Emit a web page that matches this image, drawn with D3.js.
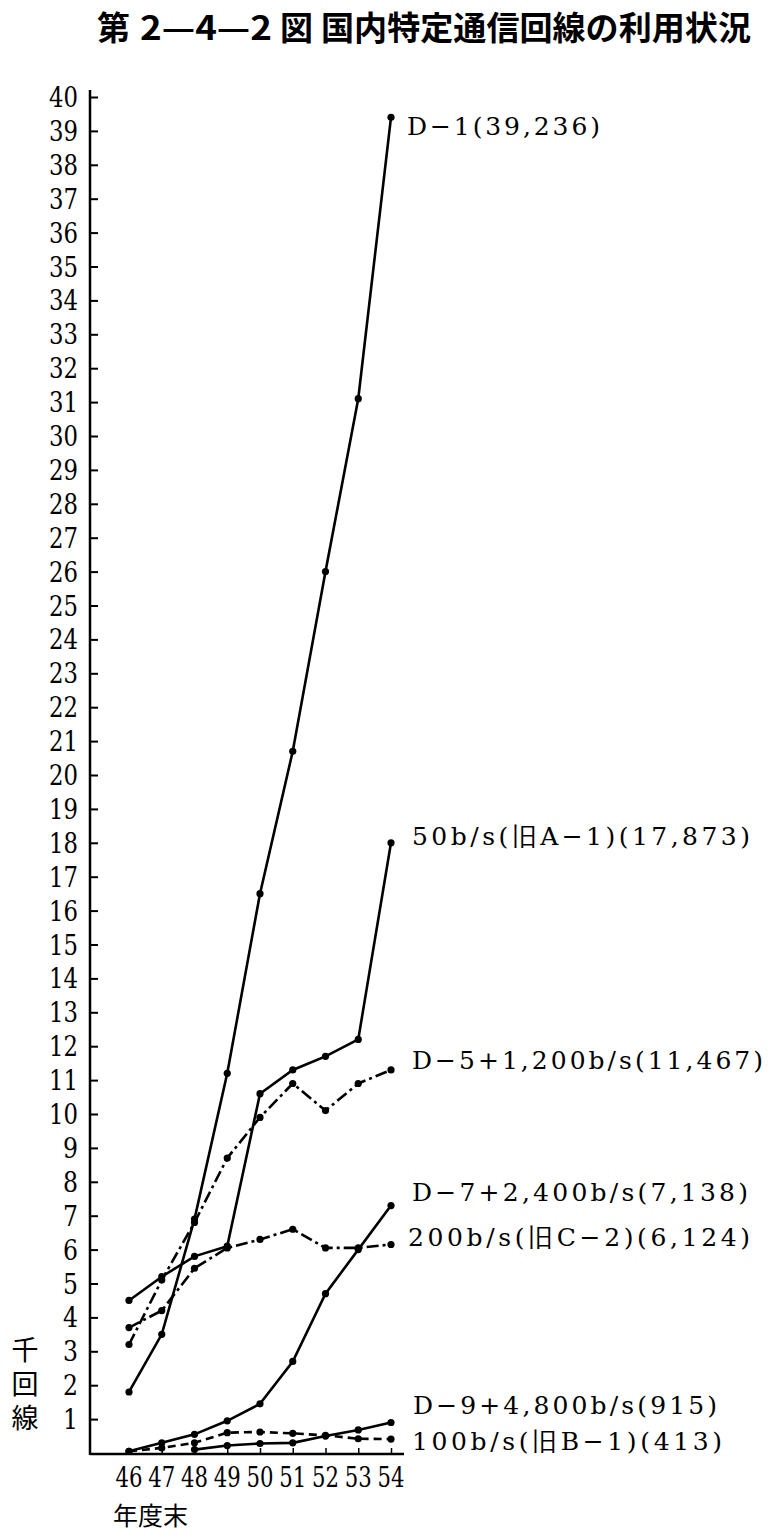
<!DOCTYPE html>
<html>
<head>
<meta charset="utf-8">
<script src="https://cdn.jsdelivr.net/npm/d3@7"></script>
<style>
  html, body { margin: 0; padding: 0; background: #fff; }
  svg { display: block; }
  .serif { font-family: "DejaVu Serif", "Liberation Serif", serif; }
  .cjk { font-family: "Noto Sans CJK JP", "Noto Sans CJK SC", sans-serif; }
</style>
</head>
<body>
<div id="chart"></div>
<script>
// ---- data (thousand circuits, fiscal year end, Showa) ----
const years = [46, 47, 48, 49, 50, 51, 52, 53, 54];
const yTicks = d3.range(1, 41);

const seriesD1  = [1.8, 3.5, 6.9, 11.2, 16.5, 20.7, 26.0, 31.1, 39.4];
const seriesA1  = [4.5, 5.2, 5.8, 6.1, 10.6, 11.3, 11.7, 12.2, 18.0];
const seriesD5  = [3.2, 5.1, 6.8, 8.7, 9.9, 10.9, 10.1, 10.9, 11.3];
const seriesD7  = [0.05, 0.3, 0.55, 0.95, 1.45, 2.7, 4.7, 6.0, 7.3];
const seriesC2  = [3.7, 4.2, 5.45, 6.05, 6.3, 6.6, 6.05, 6.05, 6.15];
const seriesD9  = [null, null, 0.1, 0.22, 0.28, 0.3, 0.5, 0.68, 0.9];
const seriesB1  = [0.05, 0.15, 0.3, 0.6, 0.62, 0.58, 0.52, 0.42, 0.41];

const seriesNames = [
  "D\u22121(39,236)",
  "50b/s(旧A\u22121)(17,873)",
  "D\u22125+1,200b/s(11,467)",
  "D\u22127+2,400b/s(7,138)",
  "200b/s(旧C\u22122)(6,124)",
  "D\u22129+4,800b/s(915)",
  "100b/s(旧B\u22121)(413)"
];
const seriesValues = [seriesD1, seriesA1, seriesD5, seriesD7, seriesC2, seriesD9, seriesB1];
const seriesStyles = ["solid", "solid", "dashdot", "solid", "dashdot", "solid", "dashed"];

const titleParts = ["第", "2—4—2", "図", "国内特定通信回線の利用状況"];
const yUnit = "千回線";
const xUnit = "年度末";

// ---- layout ----
const W = 774, H = 1538;
const svg = d3.select("#chart").append("svg").attr("width", W).attr("height", H);

const axisX = 90, axisY = 1454;
const x = d3.scaleLinear().domain([46, 54]).range([129, 391]);
const y = d3.scaleLinear().domain([0, 40]).range([1453, 97]);

// title
const titleX = [97, 140, 280, 321];
const titleLen = [null, 132, null, 430];
titleParts.forEach((t, i) => {
  const el = svg.append("text").attr("class", "cjk")
    .attr("x", titleX[i]).attr("y", 40)
    .attr("font-weight", "bold")
    .attr("font-size", 33).attr("fill", "#000").text(t);
  if (titleLen[i]) el.attr("textLength", titleLen[i]).attr("lengthAdjust", "spacingAndGlyphs");
});

// y axis
const yAxis = d3.axisRight(y).tickValues(yTicks).tickSize(8).tickFormat("");
const gy = svg.append("g").attr("transform", `translate(${axisX},0)`).call(yAxis);
gy.select(".domain").remove();
gy.selectAll(".tick line").attr("stroke", "#000").attr("stroke-width", 2);
svg.append("line").attr("x1", axisX).attr("x2", axisX).attr("y1", 90).attr("y2", axisY + 1)
  .attr("stroke", "#000").attr("stroke-width", 2.5);

svg.append("g").selectAll("text").data(yTicks).join("text")
  .attr("class", "serif")
  .attr("x", axisX - 12).attr("y", d => y(d))
  .attr("dy", "0.36em")
  .attr("text-anchor", "end")
  .attr("font-size", 28)
  .attr("textLength", d => d < 10 ? 15 : 29).attr("lengthAdjust", "spacingAndGlyphs")
  .text(d => d);

// x axis
svg.append("line").attr("x1", axisX).attr("x2", 404).attr("y1", axisY).attr("y2", axisY)
  .attr("stroke", "#000").attr("stroke-width", 2.5);
const xAxis = d3.axisTop(x).tickValues(years).tickSize(6).tickFormat("");
const gx = svg.append("g").attr("transform", `translate(0,${axisY})`).call(xAxis);
gx.select(".domain").remove();
gx.selectAll(".tick line").attr("stroke", "#000").attr("stroke-width", 1.5);

svg.append("g").selectAll("text").data(years).join("text")
  .attr("class", "serif")
  .attr("x", d => x(d)).attr("y", 1487)
  .attr("text-anchor", "middle")
  .attr("font-size", 28)
  .attr("textLength", 27).attr("lengthAdjust", "spacingAndGlyphs")
  .text(d => d);

svg.append("text").attr("class", "cjk").attr("x", 113).attr("y", 1525)
  .attr("font-size", 25).text(xUnit);

svg.append("text").attr("class", "cjk")
  .attr("x", 25).attr("y", 1336)
  .attr("font-size", 27)
  .style("writing-mode", "vertical-rl")
  .style("letter-spacing", "7px")
  .text(yUnit);

// lines
const dashes = { solid: null, dashdot: "12,4,3,4", dashed: "8,5" };
const line = d3.line()
  .defined(d => d.v != null)
  .x(d => x(d.yr)).y(d => y(d.v));

seriesValues.forEach((vals, i) => {
  const pts = years.map((yr, j) => ({ yr, v: vals[j] }));
  svg.append("path").datum(pts)
    .attr("d", line)
    .attr("fill", "none").attr("stroke", "#000")
    .attr("stroke-width", 2.6)
    .attr("stroke-dasharray", dashes[seriesStyles[i]]);
  svg.append("g").selectAll("circle").data(pts.filter(d => d.v != null)).join("circle")
    .attr("cx", d => x(d.yr)).attr("cy", d => y(d.v))
    .attr("r", 3.6).attr("fill", "#000");
});

// series labels at right
const labelY = [126, 836, 1060, 1192, 1237, 1405, 1441];
const labelX = [407, 412, 412, 412, 408, 413, 412];
const labelLen = [193, 338, 351, 336, 342, 304, 310];
seriesNames.forEach((n, i) => {
  svg.append("text").attr("class", "serif")
    .attr("x", labelX[i]).attr("y", labelY[i]).attr("dy", "0.35em")
    .attr("font-size", 25)
    .attr("textLength", labelLen[i]).attr("lengthAdjust", "spacing")
    .text(n);
});
</script>
</body>
</html>
